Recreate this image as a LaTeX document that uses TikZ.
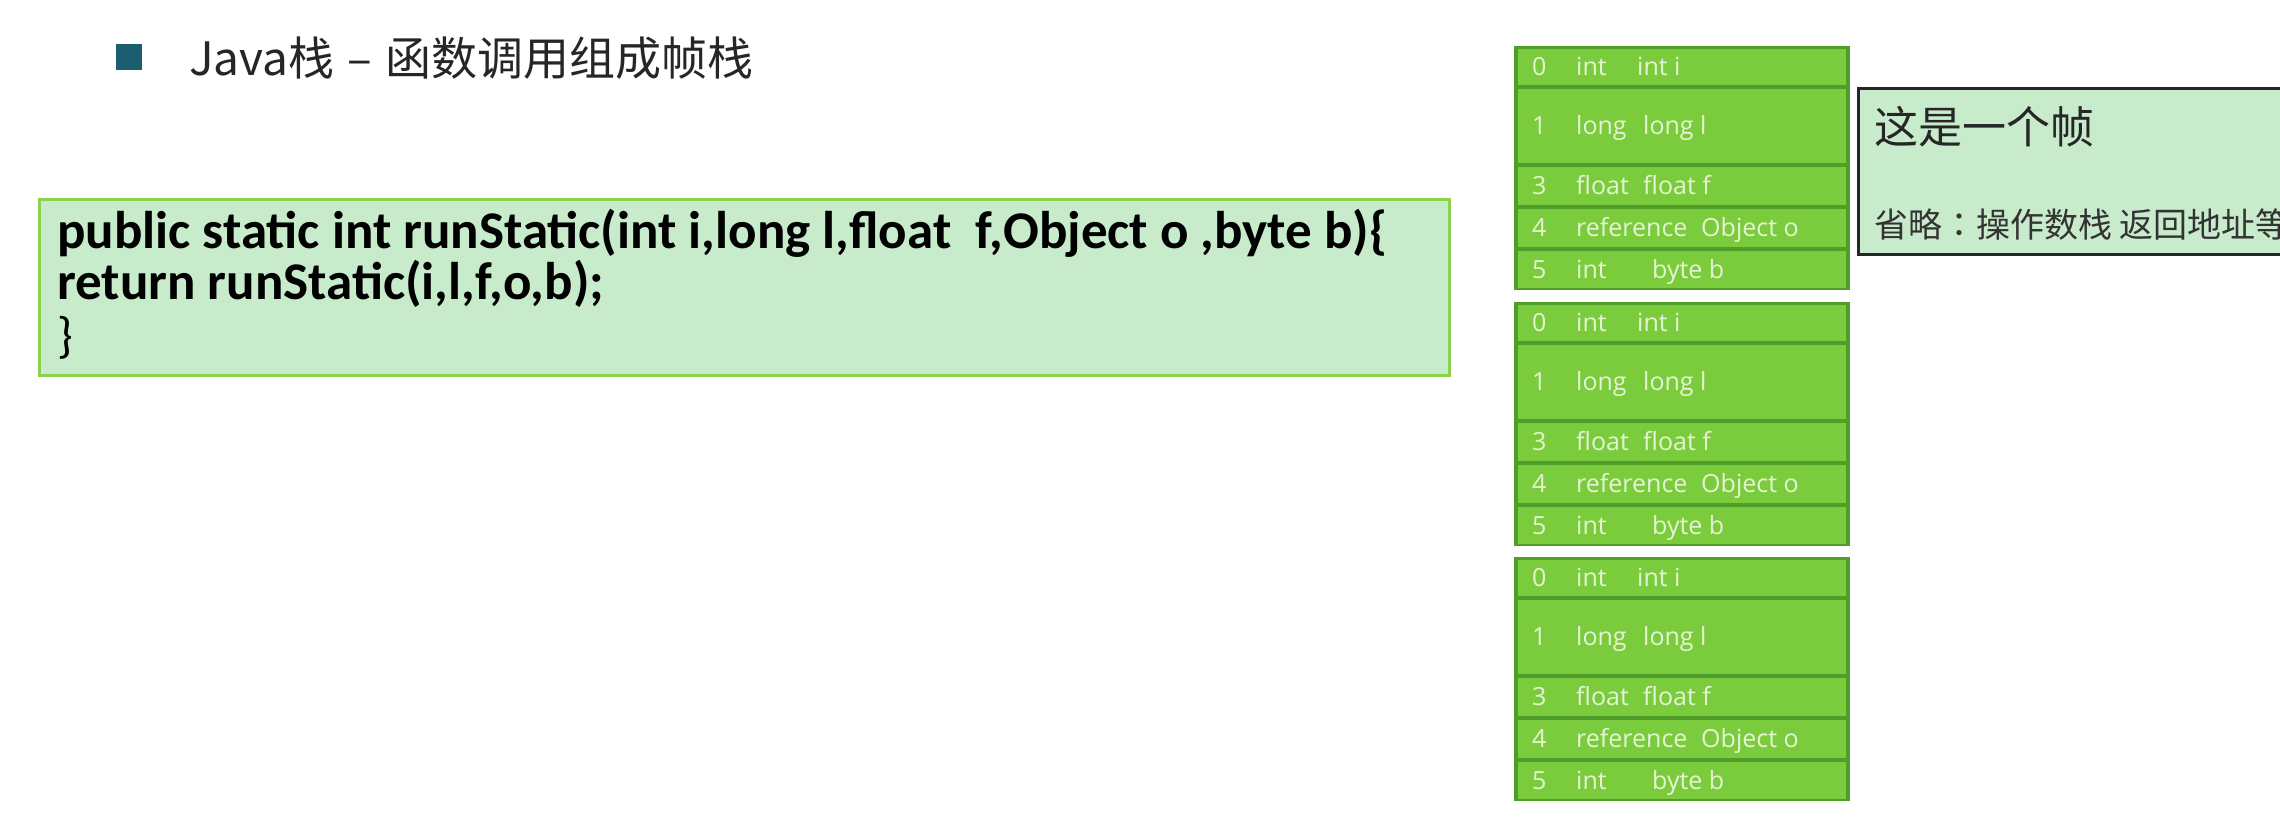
\documentclass[tikz,border=0pt]{standalone}
\usepackage{fontspec}
\setmainfont{Carlito}
\newfontfamily\cjkfont{Noto Sans CJK SC}
\newfontfamily\cjkjp{Noto Sans CJK JP}
\newfontfamily\cellfont{Open Sans}
\usetikzlibrary{calc}

\definecolor{bullteal}{HTML}{1B5E6F}
\definecolor{lightfill}{HTML}{C8EBCB}
\definecolor{codeedge}{HTML}{8BD34F}
\definecolor{cellfill}{HTML}{7BCC3C}
\definecolor{celledge}{HTML}{4F9D2B}
\definecolor{celltextcol}{HTML}{E6F4D6}

\tikzset{
  bulletbox/.style={fill=bullteal, minimum size=26, inner sep=0},
  titletext/.style={inner sep=0, font=\cjkfont\fontsize{46}{54}\selectfont, text=black!85},
  codebox/.style={draw=codeedge, line width=3, fill=lightfill, inner sep=0},
  codetext/.style={inner sep=0, font=\bfseries\fontsize{53}{60}\selectfont, text=black},
  bracetext/.style={inner sep=0, font=\fontsize{50}{58}\selectfont, text=black},
  frameouter/.style={fill=celledge, inner sep=0},
  cellbox/.style={fill=cellfill, inner sep=0, minimum width=328},
  celltext/.style={inner sep=0, font=\cellfont\fontsize{25}{30}\selectfont, text=celltextcol},
  notebox/.style={draw=black!85, line width=3, fill=lightfill, inner sep=0},
  notetitle/.style={inner sep=0, font=\cjkfont\fontsize{44}{52}\selectfont, text=black!85},
  notetext/.style={inner sep=0, font=\cjkfont\fontsize{34}{40}\selectfont, text=black!80},
}

\begin{document}
\begin{tikzpicture}[x=1pt, y=-1pt]
\useasboundingbox (0,0) rectangle (2280,838);
\clip (0,0) rectangle (2280,838);
\fill[white] (0,0) rectangle (2280,838);

% heading
\node[bulletbox] (bul) at (129,56.5) {};
\node[titletext, anchor=base west] (title) at (189,75) {Java栈\hspace{0.28em}–\hspace{0.3em}函数调用组成帧栈};

% source code
\node[codebox, anchor=north west, minimum width=1410, minimum height=176] (code) at (38,198) {};
\node[codetext, anchor=base west] (codeA) at (57,248) {public static int runStatic(int i,long l,float\ \ f,Object o ,byte b)\{};
\node[codetext, anchor=base west] (codeB) at (57,299) {return runStatic(i,l,f,o,b);};
\node[bracetext, anchor=base west] (codeC) at (57,352) {\}};

% three stack frames with their local variable slots
\foreach \fr/\top in {fA/46, fB/302, fC/557} {
  \node[frameouter, anchor=north west, minimum width=336, minimum height=244] (\fr) at (1514,\top) {};
  \foreach \idx/\off/\h/\typ/\nm/\nx in {0/3/36/int/int i/1637, 1/43/74/long/long l/1643, 3/121/38/float/float f/1643, 4/163/38/reference/Object o/1701, 5/205/37/int/byte b/1652} {
    \node[cellbox, anchor=north west, minimum height=\h] (\fr-r\idx) at (1518,{\top+\off}) {};
    \node[celltext, anchor=base west] (\fr-i\idx) at (1532,{\top+\off+\h/2+8.5}) {\idx};
    \node[celltext, anchor=base west] (\fr-t\idx) at (1576,{\top+\off+\h/2+8.5}) {\typ};
    \node[celltext, anchor=base west] (\fr-n\idx) at (\nx,{\top+\off+\h/2+8.5}) {\nm};
  }
}

% note beside the first frame
\node[notebox, anchor=north west, minimum width=500, minimum height=166] (note) at (1857,87) {};
\node[notetitle, anchor=base west] (noteA) at (1874,143) {这是一个帧};
\node[notetext, anchor=base west] (noteB) at (1874,237) {省略{\cjkjp ：}操作数栈 返回地址等};
\end{tikzpicture}
\end{document}
